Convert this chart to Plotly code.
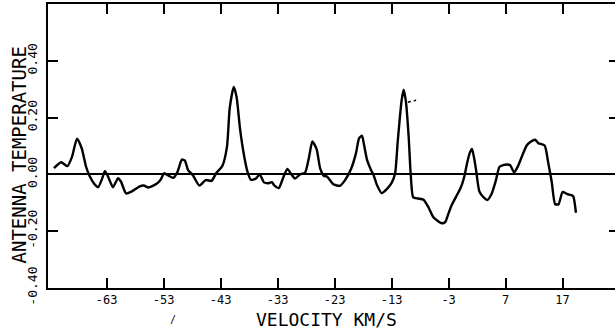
import plotly.graph_objects as go

# Spectrum (velocity km/s, antenna temperature)
velocity = [-72.25, -71.0, -69.9, -69.1, -68.2, -67.4, -66.6, -66.0, -65.2, -64.5,
            -63.8, -63.3, -62.6, -61.9, -61.0, -60.5, -59.6, -58.6, -57.2, -56.5,
            -55.7, -54.3, -53.6, -52.9, -52.2, -51.3, -50.6, -49.8, -49.3, -48.7,
            -47.9, -46.75, -45.6, -44.6, -43.8, -42.7, -41.9, -41.4, -40.7, -40.2,
            -39.6, -38.85, -38.3, -37.7, -36.85, -36.15, -35.4, -34.6, -34.0, -33.6,
            -32.8, -32.0, -31.3, -30.65, -29.95, -29.1, -28.2, -27.55, -26.9, -26.15,
            -25.55, -24.9, -24.3, -23.2, -22.05, -21.2, -20.1, -19.25, -18.7, -18.2,
            -17.85, -17.3, -16.6, -16.2, -15.6, -14.75, -13.85, -13.0, -12.4, -11.95,
            -11.6, -11.25, -10.9, -10.5, -10.0, -9.65, -9.2, -8.35, -7.4, -6.55,
            -5.7, -4.95, -4.2, -3.6, -3.05, -2.45, -1.7, -1.0, -0.65, -0.2,
            0.25, 0.7, 1.1, 1.45, 1.8, 2.4, 3.2, 3.8, 4.55, 5.3,
            5.95, 7.2, 7.8, 8.5, 9.1, 9.9, 10.7, 11.45, 12.2, 12.75,
            13.85, 14.45, 15.1, 15.7, 16.3, 17.0, 17.8, 18.65, 18.9, 19.35]
temperature = [0.022, 0.043, 0.029, 0.061, 0.126, 0.093, 0.026, -0.006, -0.033, -0.045,
               -0.015, 0.012, -0.015, -0.045, -0.013, -0.025, -0.067, -0.060, -0.042, -0.039,
               -0.046, -0.034, -0.021, 0.004, -0.004, -0.012, 0.008, 0.052, 0.049, 0.014,
               -0.002, -0.039, -0.020, -0.023, 0.004, 0.030, 0.096, 0.235, 0.308, 0.272,
               0.160, 0.061, 0.010, -0.019, -0.015, 0.000, -0.028, -0.031, -0.027, -0.039,
               -0.048, -0.010, 0.019, 0.002, -0.015, 0.000, 0.006, 0.055, 0.116, 0.088,
               0.022, -0.005, -0.008, -0.035, -0.040, -0.021, 0.020, 0.075, 0.128, 0.136,
               0.105, 0.050, 0.015, 0.000, -0.036, -0.066, -0.052, -0.030, 0.002, 0.110,
               0.190, 0.260, 0.298, 0.258, 0.130, 0.000, -0.081, -0.085, -0.089, -0.115,
               -0.150, -0.163, -0.172, -0.168, -0.139, -0.108, -0.079, -0.052, -0.035, -0.004,
               0.040, 0.075, 0.090, 0.060, 0.018, -0.060, -0.082, -0.090, -0.068, -0.021,
               0.027, 0.035, 0.032, 0.007, 0.026, 0.065, 0.102, 0.116, 0.122, 0.110,
               0.102, 0.045, -0.027, -0.105, -0.105, -0.062, -0.069, -0.074, -0.078, -0.135]

# Small pen-mark next to the tallest narrow peak
mark_velocity = [-10.15, -8.7]
mark_temperature = [0.254, 0.261]

x_ticks = [-63, -53, -43, -33, -23, -13, -3, 7, 17]
x_tick_labels = ["-63", "-53", "-43", "-33", "-23", "-13", "-3", "7", "17"]
y_ticks = [-0.4, -0.2, 0.0, 0.2, 0.4]
y_tick_labels = ["-0.40", "-0.20", "0.00", "0.20", "0.40"]

x_range = [-73.3, 26.2]
y_range = [-0.4, 0.6]

FONT = "DejaVu Sans Mono"

fig = go.Figure()
fig.add_trace(go.Scatter(
    x=velocity, y=temperature, mode="lines",
    line=dict(color="black", width=2.4, shape="spline", smoothing=0.6),
    hoverinfo="skip", showlegend=False))
fig.add_trace(go.Scatter(
    x=mark_velocity, y=mark_temperature, mode="lines",
    line=dict(color="black", width=1.5, dash="dot"),
    hoverinfo="skip", showlegend=False))
# invisible trace to activate right-side tick axis
fig.add_trace(go.Scatter(x=[x_range[0]], y=[0], yaxis="y2", mode="markers",
                         marker=dict(opacity=0), hoverinfo="skip", showlegend=False))

fig.update_layout(
    width=615, height=332,
    margin=dict(l=48, r=0, t=4, b=44),
    paper_bgcolor="white", plot_bgcolor="white",
    font=dict(family=FONT, color="black", size=12),
    xaxis=dict(range=x_range, tickvals=x_ticks, ticktext=x_tick_labels,
               ticks="inside", ticklen=10, tickwidth=1.5, tickcolor="black",
               showline=True, linecolor="black", linewidth=2, mirror="ticks",
               showgrid=False, zeroline=False,
               tickfont=dict(family=FONT, size=12, color="black"),
               ticklabelstandoff=0),
    yaxis=dict(range=y_range, tickvals=y_ticks, ticktext=y_tick_labels,
               ticks="inside", ticklen=10, tickwidth=1.5, tickcolor="black",
               showline=True, linecolor="black", linewidth=2, mirror=False,
               showgrid=False, zeroline=True, zerolinecolor="black", zerolinewidth=1.5,
               tickangle=-90,
               tickfont=dict(family=FONT, size=13, color="black"),
               ticklabelstandoff=4),
    yaxis2=dict(range=y_range, tickvals=y_ticks, overlaying="y", side="right",
                ticks="inside", ticklen=6, tickwidth=1.5, tickcolor="black",
                showticklabels=False, showline=False, showgrid=False, zeroline=False),
    annotations=[
        dict(text="VELOCITY KM/S", xref="paper", yref="paper",
             x=(326.7 - 48) / 567, y=-(319.5 - 288) / 284,
             xanchor="center", yanchor="middle", showarrow=False,
             font=dict(family=FONT, size=18, color="black")),
        dict(text="ANTENNA TEMPERATURE", xref="paper", yref="paper",
             x=-(48 - 18.5) / 567, y=(288 - 155) / 284, textangle=-90,
             xanchor="center", yanchor="middle", showarrow=False,
             font=dict(family=FONT, size=19, color="black")),
        dict(text="/", xref="paper", yref="paper",
             x=(172.5 - 48) / 567, y=-(319.5 - 288) / 284,
             xanchor="center", yanchor="middle", showarrow=False,
             font=dict(family=FONT, size=10, color="black")),
    ],
)

fig.write_html("out.html",
               config={"displayModeBar": False},
               post_script="document.body.style.margin='0';document.body.style.overflow='hidden';")
